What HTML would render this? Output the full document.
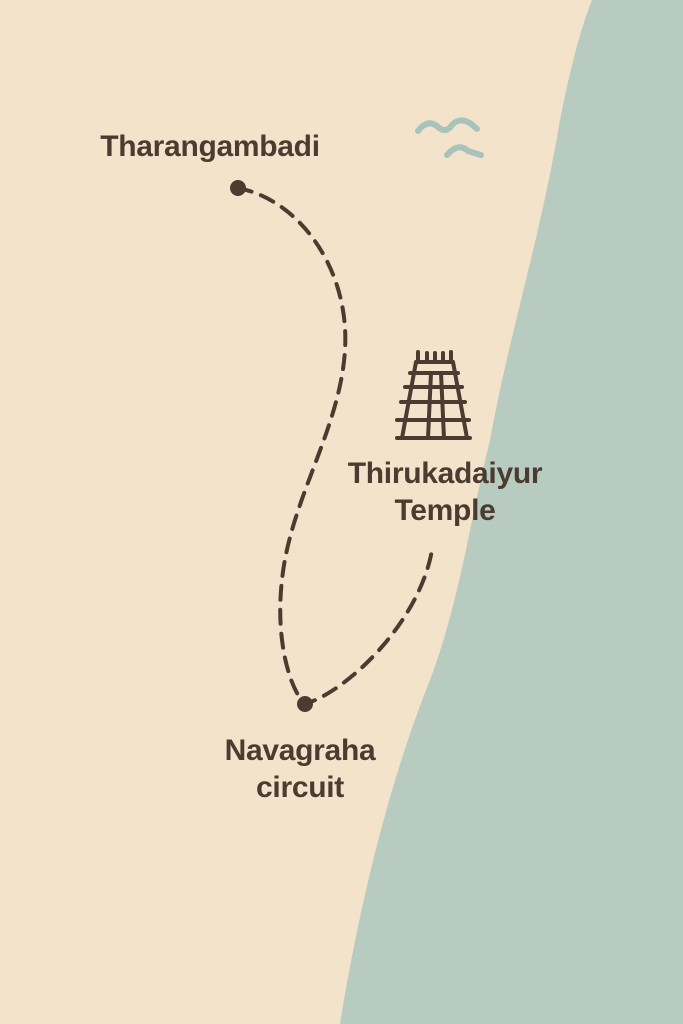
<!DOCTYPE html>
<html><head><style>
html,body{margin:0;padding:0}
body{width:683px;height:1024px;overflow:hidden;background:#f3e3cb;position:relative;font-family:"Liberation Sans",sans-serif}
.t{position:absolute;color:#4a3c30;font-size:30px;font-weight:bold;letter-spacing:-0.3px;text-align:center;line-height:37px}
</style></head><body>
<svg width="683" height="1024" style="position:absolute;left:0;top:0">
<path d="M592 0 L683 0 L683 1024 L340 1024 C360 900 390 780 430 680 C460 600 470 520 490 440 C510 330 540 240 560 120 C570 70 580 30 592 0Z" fill="#b8cbc0"/>
<g fill="none" stroke="#a7c3bb" stroke-width="6" stroke-linecap="round">
<path d="M418 131 Q428 118 438 127 Q446 134 452 125 Q462 114 477 129"/>
<path d="M447 155 Q458 142 468 151 L481 155"/>
</g>
<path d="M238 188 C300 200 350 270 345 350 C340 430 290 500 282 580 C275 640 290 690 305 704 C350 690 420 620 432 550" fill="none" stroke="#4a3c30" stroke-width="4" stroke-dasharray="14 10" stroke-linecap="round"/>
<circle cx="238" cy="188" r="8" fill="#4a3c30"/>
<circle cx="305" cy="704" r="8" fill="#4a3c30"/>
<g fill="none" stroke="#4a3c30" stroke-width="4" stroke-linecap="round">
<path d="M418 352 V362 M427 353 V362 M435 353 V362 M443 353 V362 M451 352 V362"/>
<path d="M417 362 H452"/>
<path d="M416 362 L402 438 M453 362 L467 438"/>
<path d="M410 373 H458 M405 387 H462 M401 402 H465 M397 420 H469 M397 438 H470"/>
<path d="M431 373 L428 438 M441 373 L444 438"/>
</g>
</svg>
<div class="t" style="left:80px;top:128px;width:260px">Tharangambadi</div>
<div class="t" style="left:320px;top:455px;width:250px">Thirukadaiyur<br>Temple</div>
<div class="t" style="left:190px;top:732px;width:220px">Navagraha<br>circuit</div>
</body></html>
